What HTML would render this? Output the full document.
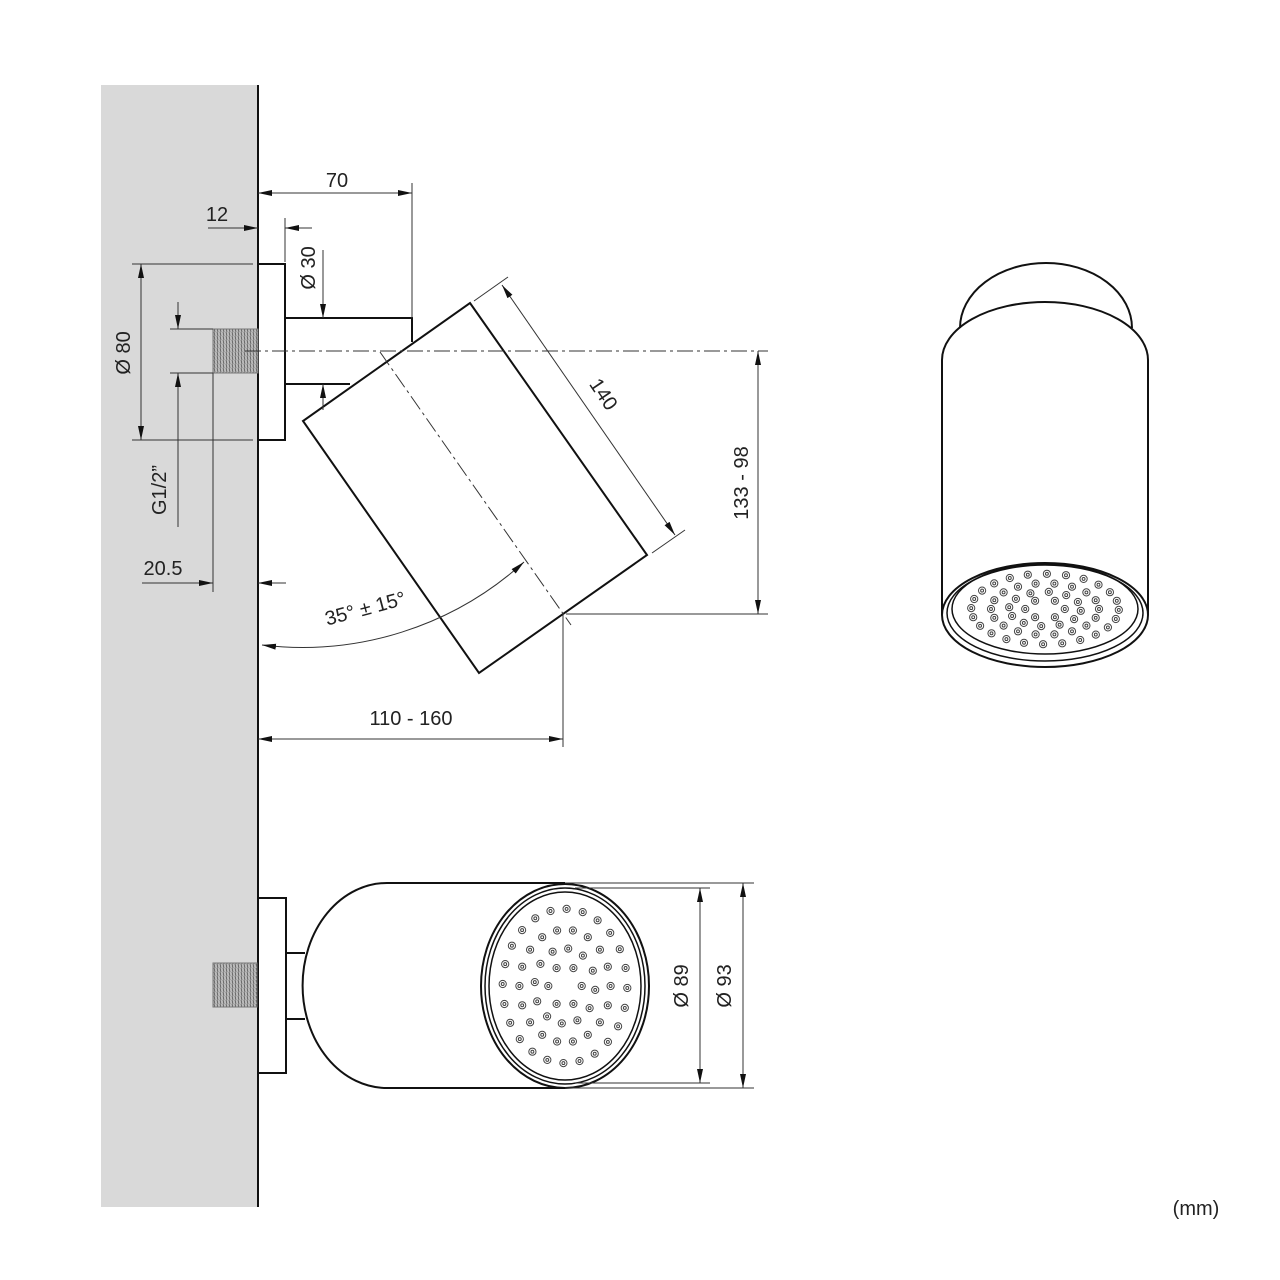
<!DOCTYPE html>
<html><head><meta charset="utf-8"><style>
html,body{margin:0;padding:0;background:#fff}
svg{display:block}
text{font-family:"Liberation Sans",Arial,sans-serif;font-size:20px;fill:#222}
</style></head><body>
<svg id="s" width="1280" height="1280" viewBox="0 0 1280 1280" xmlns="http://www.w3.org/2000/svg">
<defs>
<marker id="a" viewBox="0 0 14 6" refX="14" refY="3" markerWidth="14" markerHeight="6" markerUnits="userSpaceOnUse" orient="auto-start-reverse"><path d="M0,0 L14,3 L0,6 z" fill="#111"/></marker>
<pattern id="th" width="3" height="4" patternUnits="userSpaceOnUse"><rect width="3" height="4" fill="#bbb"/><line x1="1" y1="0" x2="2" y2="4" stroke="#555" stroke-width="0.8"/></pattern>
</defs>
<rect x="101" y="85" width="157" height="1122" fill="#d9d9d9"/>
<line x1="258" y1="85" x2="258" y2="1207" stroke="#111" stroke-width="2"/>

<g fill="none" stroke="#111" stroke-width="2">
<rect x="258" y="264" width="27" height="176" fill="#fff"/>
<rect x="213" y="329" width="45" height="44" fill="url(#th)" stroke="#777" stroke-width="1"/>
<path d="M285,318 H412 V342 M285,384 H350" />
<polygon points="470,303 647,555 479,673 303,421" fill="#fff"/>
<rect x="258" y="898" width="28" height="175" fill="#fff"/>
<rect x="213" y="963" width="44" height="44" fill="url(#th)" stroke="#777" stroke-width="1"/>
<path d="M286,953 H305 M286,1019 H305"/>
<path d="M387,883 H565 M387,1088 H565 M387,883 A84,102 0 0 0 387,1088" fill="#fff"/>
<ellipse cx="565" cy="986" rx="84" ry="102" fill="#fff"/>
<ellipse cx="565" cy="986" rx="80" ry="98" stroke-width="1.5"/>
<ellipse cx="565" cy="986" rx="76" ry="94" stroke-width="1.5"/>
<path d="M960,328 A86,65 0 0 1 1132,328"/>
<path d="M942,615 V360 A103,58 0 0 1 1148,360 V615"/>
<ellipse cx="1045" cy="615" rx="103" ry="52" fill="#fff"/>
<ellipse cx="1045" cy="613" rx="98" ry="48" stroke-width="1.5"/>
<ellipse cx="1045" cy="609" rx="93" ry="45" stroke-width="1.5"/>
</g>
<g id="holes" fill="#fff" stroke="#444" stroke-width="1"></g>

<g fill="none" stroke="#333" stroke-width="1">
<line x1="245" y1="351" x2="768" y2="351" stroke-dasharray="16,4,3,4"/>
<line x1="380" y1="352" x2="571" y2="625" stroke-dasharray="16,4,3,4"/>
<line x1="258" y1="193" x2="412" y2="193" marker-start="url(#a)" marker-end="url(#a)"/>
<line x1="412" y1="183" x2="412" y2="318"/>
<line x1="208" y1="228" x2="258" y2="228" marker-end="url(#a)"/>
<line x1="312" y1="228" x2="285" y2="228" marker-end="url(#a)"/>
<line x1="285" y1="218" x2="285" y2="262"/>
<line x1="323" y1="250" x2="323" y2="318" marker-end="url(#a)"/>
<line x1="323" y1="410" x2="323" y2="384" marker-end="url(#a)"/>
<line x1="132" y1="264" x2="253" y2="264"/><line x1="132" y1="440" x2="253" y2="440"/>
<line x1="141" y1="264" x2="141" y2="440" marker-start="url(#a)" marker-end="url(#a)"/>
<line x1="170" y1="329" x2="213" y2="329"/><line x1="170" y1="373" x2="213" y2="373"/>
<line x1="178" y1="302" x2="178" y2="329" marker-end="url(#a)"/>
<line x1="178" y1="527" x2="178" y2="373" marker-end="url(#a)"/>
<line x1="213" y1="373" x2="213" y2="592"/>
<line x1="142" y1="583" x2="213" y2="583" marker-end="url(#a)"/>
<line x1="286" y1="583" x2="258" y2="583" marker-end="url(#a)"/>
<line x1="474" y1="301" x2="508" y2="277"/><line x1="652" y1="553" x2="685" y2="530"/>
<line x1="502" y1="285" x2="675" y2="535" marker-start="url(#a)" marker-end="url(#a)"/>
<line x1="566" y1="614" x2="768" y2="614"/>
<line x1="758" y1="351" x2="758" y2="614" marker-start="url(#a)" marker-end="url(#a)"/>
<line x1="563" y1="614" x2="563" y2="747"/>
<line x1="258" y1="739" x2="563" y2="739" marker-start="url(#a)" marker-end="url(#a)"/>
<path d="M262,645 A330,330 0 0 0 524,562" marker-start="url(#a)" marker-end="url(#a)"/>
<line x1="565" y1="883" x2="754" y2="883"/><line x1="565" y1="1088" x2="754" y2="1088"/>
<line x1="575" y1="888" x2="710" y2="888"/><line x1="575" y1="1083" x2="710" y2="1083"/>
<line x1="700" y1="888" x2="700" y2="1083" marker-start="url(#a)" marker-end="url(#a)"/>
<line x1="743" y1="883" x2="743" y2="1088" marker-start="url(#a)" marker-end="url(#a)"/>
</g>

<text x="337" y="187" text-anchor="middle">70</text>
<text x="217" y="221" text-anchor="middle">12</text>
<text transform="translate(315,268) rotate(-90)" text-anchor="middle">Ø 30</text>
<text transform="translate(130,353) rotate(-90)" text-anchor="middle">Ø 80</text>
<text transform="translate(166,490) rotate(-90)" text-anchor="middle">G1/2”</text>
<text x="163" y="575" text-anchor="middle">20.5</text>
<text transform="translate(598,398) rotate(56)" text-anchor="middle">140</text>
<text transform="translate(748,483) rotate(-90)" text-anchor="middle">133 - 98</text>
<text transform="translate(367,615) rotate(-15)" text-anchor="middle">35° ± 15°</text>
<text x="411" y="725" text-anchor="middle">110 - 160</text>
<text transform="translate(688,986) rotate(-90)" text-anchor="middle">Ø 89</text>
<text transform="translate(731,986) rotate(-90)" text-anchor="middle">Ø 93</text>
<text x="1196" y="1215" text-anchor="middle">(mm)</text>
</svg>
<script>
(function(){
var g=document.getElementById('holes'),ns='http://www.w3.org/2000/svg';
function face(cx,cy,rx,ry,r){
 var rings=[[0.22,6,0],[0.4,12,0.2],[0.6,18,0],[0.82,24,0.1]];
 rings.forEach(function(q){
  for(var i=0;i<q[1];i++){
   var t=(i+q[2])/q[1]*2*Math.PI;
   var x=(cx+Math.cos(t)*rx*q[0]).toFixed(1),y=(cy+Math.sin(t)*ry*q[0]).toFixed(1);
   var c=document.createElementNS(ns,'ellipse');
   c.setAttribute('cx',x);c.setAttribute('cy',y);
   c.setAttribute('rx',r);c.setAttribute('ry',r);g.appendChild(c);
   var d=document.createElementNS(ns,'ellipse');
   d.setAttribute('cx',x);d.setAttribute('cy',y);
   d.setAttribute('rx',r*0.4);d.setAttribute('ry',r*0.4);g.appendChild(d);
  }
 });
}
face(565,986,76,94,3.6);
face(1045,609,90,43,3.6);
})();
</script>
</body></html>
